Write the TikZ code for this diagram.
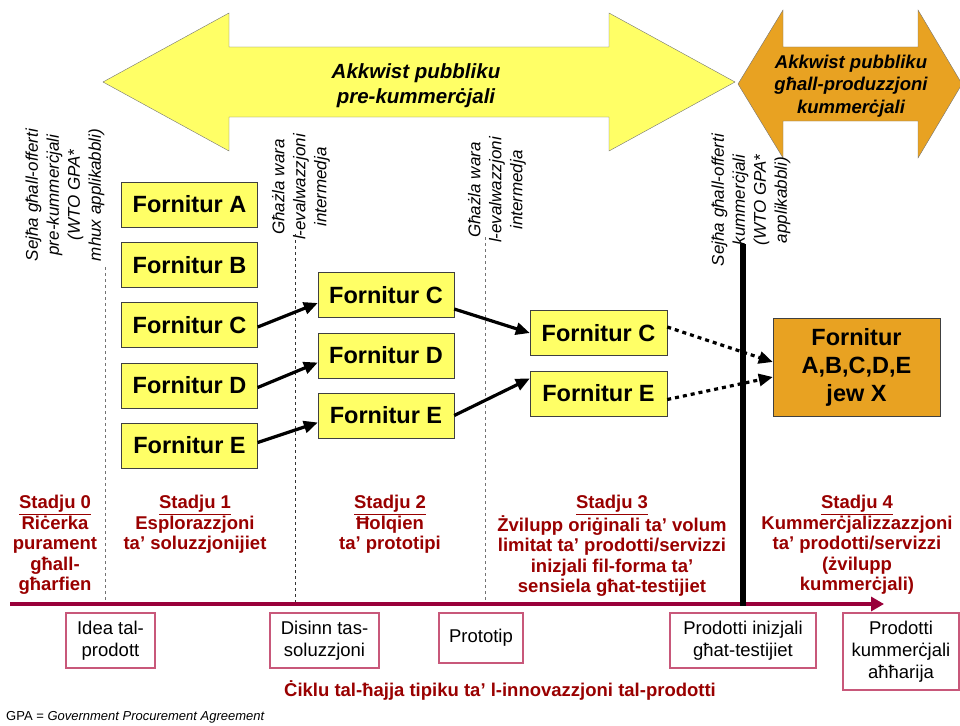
\documentclass[tikz,border=0pt]{standalone}
\usepackage{fontspec}
\setmainfont{Liberation Sans}
\usetikzlibrary{arrows.meta}
\definecolor{forngialla}{HTML}{FFFF66}
\definecolor{fornorange}{HTML}{E8A222}
\definecolor{stadjured}{HTML}{990000}
\definecolor{linjared}{HTML}{99003A}
\definecolor{kaxxared}{HTML}{C8587A}
\tikzset{
  fornbox/.style={draw=black!75, fill=forngialla, minimum width=136pt, minimum height=45pt, inner sep=0pt, font=\fontsize{23.5}{27}\selectfont\bfseries},
  fornxbox/.style={draw=black!75, fill=fornorange, minimum width=167pt, minimum height=98pt, inner sep=0pt, align=center, font=\fontsize{23.5}{28}\selectfont\bfseries},
  vlegatxt/.style={align=center, inner sep=0pt, font=\fontsize{20.5}{25}\selectfont\bfseries\itshape},
  sejhalbl/.style={rotate=90, align=center, inner sep=0pt, font=\fontsize{17}{21}\selectfont\itshape},
  stadjutxt/.style={anchor=north, align=center, inner sep=0pt, text=stadjured, font=\fontsize{18.5}{20.5}\selectfont\bfseries},
  prodbox/.style={draw=kaxxared, line width=1.2pt, fill=white, align=center, inner sep=0pt, font=\fontsize{18.5}{22}\selectfont},
  vlegga/.style={line width=3.2pt, -{Triangle[length=14pt,width=12pt]}},
  vleggapunti/.style={vlegga, dash pattern=on 4pt off 4pt},
  linjatratt/.style={draw=black!55, line width=0.9pt, dash pattern=on 3pt off 3pt}
}
\begin{document}
\begin{tikzpicture}[x=1pt, y=-1pt]
\useasboundingbox (0,0) rectangle (960,725);

% Il-vleġeġ ta' fuq
\draw[draw=black!55, fill=forngialla] (103,82) -- (229,13) -- (229,47) -- (609,47) -- (609,13) -- (735,82) -- (609,151) -- (609,117) -- (229,117) -- (229,151) -- cycle;
\node[vlegatxt] (prekumm) at (416,86) {Akkwist pubbliku\\pre-kummerċjali};
\draw[draw=black!55, fill=fornorange] (738,84) -- (783,10) -- (783,47) -- (918,47) -- (918,10) -- (962,84) -- (918,158) -- (918,121) -- (783,121) -- (783,158) -- cycle;
\node[vlegatxt, font=\fontsize{18.5}{22.5}\selectfont\bfseries\itshape] (kumm) at (851,86) {Akkwist pubbliku\\għall-produzzjoni\\kummerċjali};

% Is-sejħiet u l-għażliet
\node[sejhalbl] (sejha1) at (65,195) {Sejħa għall-offerti\\pre-kummerċjali\\(WTO GPA*\\mhux applikabbli)};
\node[sejhalbl] (ghazla1) at (301,187) {Għażla wara\\l-evalwazzjoni\\intermedja};
\node[sejhalbl] (ghazla2) at (497,190) {Għażla wara\\l-evalwazzjoni\\intermedja};
\node[sejhalbl] (sejha2) at (751,200) {Sejħa għall-offerti\\kummerċjali\\(WTO GPA*\\applikabbli)};
\draw[linjatratt] (105,267) -- (105,604);
\draw[linjatratt, draw=black!80] (295,234) -- (295,604);
\draw[linjatratt] (485,237) -- (485,604);

% Il-linja taż-żmien
\coordinate (bidu) at (10,604);
\coordinate (tmiem) at (884,604);
\draw[linjared, line width=4pt, -{Triangle[length=13pt,width=14pt]}] (bidu) -- (tmiem);
\draw[line width=6pt] (743,244) -- (743,606);

% Il-fornituri
\node[fornbox] (fa1) at (189.5,204.5) {Fornitur A};
\node[fornbox] (fb1) at (189.5,265) {Fornitur B};
\node[fornbox] (fc1) at (189.5,325) {Fornitur C};
\node[fornbox] (fd1) at (189.5,385.5) {Fornitur D};
\node[fornbox] (fe1) at (189.5,445.5) {Fornitur E};
\node[fornbox] (fc2) at (386,295) {Fornitur C};
\node[fornbox] (fd2) at (386,355.5) {Fornitur D};
\node[fornbox] (fe2) at (386,415.5) {Fornitur E};
\node[fornbox, minimum width=137pt] (fc3) at (598.5,333) {Fornitur C};
\node[fornbox, minimum width=137pt] (fe3) at (598.5,393.5) {Fornitur E};
\node[fornxbox] (fx) at (856.5,367) {Fornitur\\A,B,C,D,E\\jew X};

\draw[vlegga] ([yshift=-2pt]fc1.east) -- ([yshift=-8pt]fc2.west);
\draw[vlegga] ([yshift=-2pt]fd1.east) -- ([yshift=-7pt]fd2.west);
\draw[vlegga] ([yshift=3pt]fe1.east) -- ([yshift=-7pt]fe2.west);
\draw[vlegga] ([yshift=-14pt]fc2.east) -- (fc3.west);
\draw[vlegga] (fe2.east) -- ([yshift=15pt]fe3.west);
\draw[vleggapunti] ([yshift=6pt]fc3.east) -- ([yshift=5pt]fx.west);
\draw[vleggapunti] ([yshift=-6pt]fe3.east) -- ([yshift=-10pt]fx.west);

% L-istadji
\node[stadjutxt] (st0) at (55,495) {\underline{Stadju 0}\\Riċerka\\purament\\għall-\\għarfien};
\node[stadjutxt] (st1) at (195,495) {\underline{Stadju 1}\\Esplorazzjoni\\ta’ soluzzjonijiet};
\node[stadjutxt] (st2) at (390,495) {\underline{Stadju 2}\\Ħolqien\\ta’ prototipi};
\node[stadjutxt] (st3) at (612,495) {\underline{Stadju 3}\\Żvilupp oriġinali ta’ volum\\limitat ta’ prodotti/servizzi\\inizjali fil-forma ta’\\sensiela għat-testijiet};
\node[stadjutxt] (st4) at (857,495) {\underline{Stadju 4}\\Kummerċjalizzazzjoni\\ta’ prodotti/servizzi\\(żvilupp\\kummerċjali)};

% Il-prodotti
\node[prodbox, minimum width=89pt, minimum height=55pt] (idea) at (110.5,640.5) {Idea tal-\\prodott};
\node[prodbox, minimum width=109pt, minimum height=55pt] (disinn) at (324.5,640.5) {Disinn tas-\\soluzzjoni};
\node[prodbox, minimum width=84pt, minimum height=50pt] (prototip) at (481,638) {Prototip};
\node[prodbox, minimum width=146pt, minimum height=55pt] (inizjali) at (743,640.5) {Prodotti inizjali\\għat-testijiet};
\node[prodbox, minimum width=116pt, minimum height=77pt] (ahharija) at (901,651.5) {Prodotti\\kummerċjali\\aħħarija};

\node[text=stadjured, inner sep=0pt, font=\fontsize{18.5}{22}\selectfont\bfseries] (ciklu) at (500,690) {Ċiklu tal-ħajja tipiku ta’ l-innovazzjoni tal-prodotti};
\node[anchor=west, inner sep=0pt, font=\fontsize{13}{15}\selectfont] (gpa) at (6,717) {GPA = \textit{Government Procurement Agreement}};
\end{tikzpicture}
\end{document}
